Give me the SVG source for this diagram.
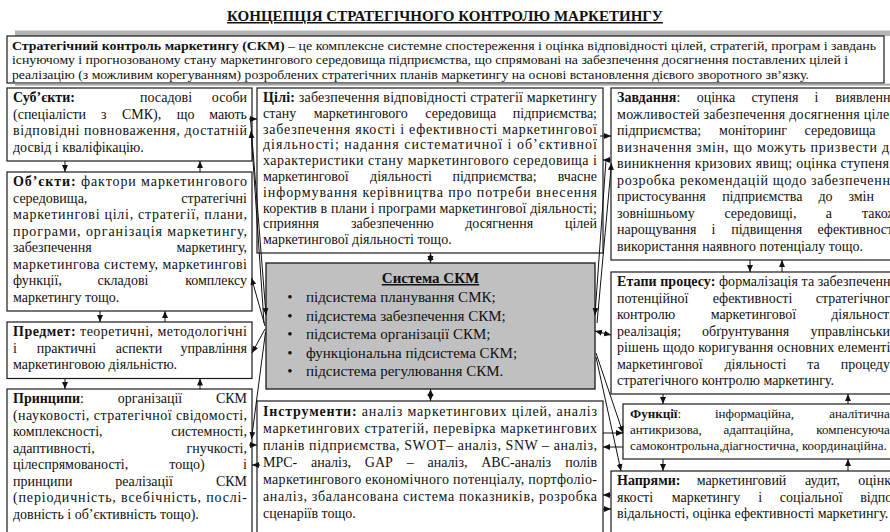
<svg xmlns="http://www.w3.org/2000/svg" width="890" height="532" viewBox="0 0 890 532">
<defs>
<style>
text{font-family:"Liberation Serif","Times New Roman",serif;font-size:14px;fill:#111}
.b{font-weight:bold}
.m{text-anchor:middle}
.e{text-anchor:end}
.box{fill:#fff;stroke:#1a1a1a;stroke-width:1.2}
.cn line{stroke:#111;stroke-width:1;fill:none}
.d{font-size:13.4px}
</style>
<marker id="a" viewBox="0 0 8 8" refX="8" refY="4" markerWidth="7" markerHeight="7" markerUnits="userSpaceOnUse" orient="auto-start-reverse"><path d="M0,0.6 L8,4 L0,7.4z" fill="#111"/></marker>
</defs>
<rect width="890" height="532" fill="#fff"/>

<g id="title"><text x="445" y="21" class="b m" style="font-size:15px;text-decoration:underline">КОНЦЕПЦІЯ СТРАТЕГІЧНОГО КОНТРОЛЮ МАРКЕТИНГУ</text></g>

<g id="definition">
<rect x="15" y="30.5" width="880" height="5.5" fill="#b4b4b4"/>
<rect class="box" x="7" y="36" width="877" height="47"/>
<rect x="15" y="83.6" width="880" height="2" fill="#a8a8a8"/>
<text x="12" y="49.5" class="d" textLength="864" lengthAdjust="spacingAndGlyphs"><tspan class="b">Стратегічний контроль маркетингу (СКМ)</tspan> – це комплексне системне спостереження і оцінка відповідності цілей, стратегій, програм і завдань</text>
<text x="12" y="64.3" class="d" textLength="836" lengthAdjust="spacingAndGlyphs">існуючому і прогнозованому стану маркетингового середовища підприємства, що спрямовані на забезпечення досягнення поставлених цілей і</text>
<text x="12" y="79.1" class="d" textLength="797" lengthAdjust="spacingAndGlyphs">реалізацію (з можливим корегуванням) розроблених стратегічних планів маркетингу на основі встановлення дієвого зворотного зв’язку.</text>
</g>

<g transform="translate(0,3)">
<g id="subjects">
<rect class="box" x="7" y="85" width="245" height="73"/>
<text y="99"><tspan x="13" class="b">Суб’єкти:</tspan><tspan x="166" class="m">посадові</tspan><tspan x="247" class="e">особи</tspan></text>
<text y="115.5"><tspan x="13">(спеціалісти</tspan><tspan x="103.8" class="m">з</tspan><tspan x="141.6" class="m">СМК),</tspan><tspan x="185.6" class="m">що</tspan><tspan x="247" class="e">мають</tspan></text>
<text x="13" y="132" textLength="234" lengthAdjust="spacing">відповідні повноваження, достатній</text>
<text x="13" y="148.5">досвід і кваліфікацію.</text>
</g>

<g id="objects">
<rect class="box" x="7" y="169" width="245" height="139"/>
<text x="13" y="183" textLength="234" lengthAdjust="spacing"><tspan class="b">Об’єкти:</tspan> фактори маркетингового</text>
<text y="199.5"><tspan x="13">середовища,</tspan><tspan x="247" class="e">стратегічні</tspan></text>
<text x="13" y="216" textLength="234" lengthAdjust="spacing">маркетингові цілі, стратегії, плани,</text>
<text x="13" y="232.5" textLength="234" lengthAdjust="spacing">програми, організація маркетингу,</text>
<text y="249"><tspan x="13">забезпечення</tspan><tspan x="247" class="e">маркетингу,</tspan></text>
<text x="13" y="265.5" textLength="234" lengthAdjust="spacing">маркетингова систему, маркетингові</text>
<text y="282"><tspan x="13">функції,</tspan><tspan x="123" class="m">складові</tspan><tspan x="247" class="e">комплексу</tspan></text>
<text x="13" y="298.5">маркетингу тощо.</text>
</g>

<g id="subject-matter">
<rect class="box" x="7" y="319" width="245" height="56.5"/>
<text x="13" y="333" textLength="234" lengthAdjust="spacing"><tspan class="b">Предмет:</tspan> теоретичні, методологічні</text>
<text y="349.5"><tspan x="13">і</tspan><tspan x="66.4" class="m">практичні</tspan><tspan x="139" class="m">аспекти</tspan><tspan x="247" class="e">управління</tspan></text>
<text x="13" y="366">маркетинговою діяльністю.</text>
</g>

<g id="principles">
<rect class="box" x="7" y="386" width="245" height="160"/>
<text y="400"><tspan x="13"><tspan class="b">Принципи</tspan>:</tspan><tspan x="150" class="m">організації</tspan><tspan x="247" class="e">СКМ</tspan></text>
<text x="13" y="416.5" textLength="234" lengthAdjust="spacing">(науковості, стратегічної свідомості,</text>
<text y="433"><tspan x="13">комплексності,</tspan><tspan x="247" class="e">системності,</tspan></text>
<text y="449.5"><tspan x="13">адаптивності,</tspan><tspan x="247" class="e">гнучкості,</tspan></text>
<text y="466"><tspan x="13">цілеспрямованості,</tspan><tspan x="187" class="m">тощо)</tspan><tspan x="247" class="e">і</tspan></text>
<text y="482.5"><tspan x="13">принципи</tspan><tspan x="144" class="m">реалізації</tspan><tspan x="247" class="e">СКМ</tspan></text>
<text x="13" y="499" textLength="234" lengthAdjust="spacing">(періодичність, всебічність, послі-</text>
<text x="13" y="515.5">довність і об’єктивність тощо).</text>
</g>

<g id="goals">
<rect class="box" x="257" y="85" width="346" height="165"/>
<text x="263" y="99" textLength="334" lengthAdjust="spacing"><tspan class="b">Цілі:</tspan> забезпечення відповідності стратегії маркетингу</text>
<text y="114.8"><tspan x="263">стану</tspan><tspan x="360.7" class="m">маркетингового</tspan><tspan x="460.8" class="m">середовища</tspan><tspan x="597" class="e">підприємства;</tspan></text>
<text x="263" y="130.6" textLength="334" lengthAdjust="spacing">забезпечення якості і ефективності маркетингової</text>
<text x="263" y="146.4" textLength="334" lengthAdjust="spacing">діяльності; надання систематичної і об’єктивної</text>
<text x="263" y="162.2" textLength="334" lengthAdjust="spacing">характеристики стану маркетингового середовища і</text>
<text y="178"><tspan x="263">маркетингової</tspan><tspan x="401" class="m">діяльності</tspan><tspan x="494.6" class="m">підприємства;</tspan><tspan x="597" class="e">вчасне</tspan></text>
<text x="263" y="193.8" textLength="334" lengthAdjust="spacing">інформування керівництва про потреби внесення</text>
<text x="263" y="209.6" textLength="334" lengthAdjust="spacing">коректив в плани і програми маркетингової діяльності;</text>
<text y="225.4"><tspan x="263">сприяння</tspan><tspan x="392.4" class="m">забезпеченню</tspan><tspan x="499.2" class="m">досягнення</tspan><tspan x="597" class="e">цілей</tspan></text>
<text x="263" y="241.2">маркетингової діяльності тощо.</text>
</g>

<g id="system">
<rect x="266" y="260" width="329" height="126" fill="#c0c0c0" stroke="#1a1a1a" stroke-width="1.3"/>
<text x="430.5" y="280" class="b m" style="font-size:15px;text-decoration:underline">Система СКМ</text>
<text x="290" y="299" class="m" style="font-size:15px">•</text><text x="306" y="299" style="font-size:15px">підсистема планування СМК;</text>
<text x="290" y="317.5" class="m" style="font-size:15px">•</text><text x="306" y="317.5" style="font-size:15px">підсистема забезпечення СКМ;</text>
<text x="290" y="336" class="m" style="font-size:15px">•</text><text x="306" y="336" style="font-size:15px">підсистема організації СКМ;</text>
<text x="290" y="354.5" class="m" style="font-size:15px">•</text><text x="306" y="354.5" style="font-size:15px">функціональна підсистема СКМ;</text>
<text x="290" y="373" class="m" style="font-size:15px">•</text><text x="306" y="373" style="font-size:15px">підсистема регулювання СКМ.</text>
</g>

<g id="tools">
<rect class="box" x="257" y="398" width="346" height="150"/>
<text x="263" y="413" textLength="334" lengthAdjust="spacing"><tspan class="b">Інструменти:</tspan> аналіз маркетингових цілей, аналіз</text>
<text x="263" y="430" textLength="334" lengthAdjust="spacing">маркетингових стратегій, перевірка маркетингових</text>
<text x="263" y="447" textLength="334" lengthAdjust="spacing">планів підприємства, SWOT– аналіз, SNW – аналіз,</text>
<text y="464"><tspan x="263">MPC-</tspan><tspan x="331" class="m">аналіз,</tspan><tspan x="378.8" class="m">GAP</tspan><tspan x="410.2" class="m">–</tspan><tspan x="447.5" class="m">аналіз,</tspan><tspan x="516.2" class="m">ABC-аналіз</tspan><tspan x="597" class="e">полів</tspan></text>
<text x="263" y="481" textLength="334" lengthAdjust="spacing">маркетингового економічного потенціалу, портфоліо-</text>
<text x="263" y="498" textLength="334" lengthAdjust="spacing">аналіз, збалансована система показників, розробка</text>
<text x="263" y="515">сценаріїв тощо.</text>
</g>

<g id="tasks">
<rect class="box" x="611" y="85" width="300" height="172"/>
<text y="99"><tspan x="617"><tspan class="b">Завдання</tspan>:</tspan><tspan x="716" class="m">оцінка</tspan><tspan x="775" class="m">ступеня</tspan><tspan x="816.5" class="m">і</tspan><tspan x="897" class="e">виявлення</tspan></text>
<text x="617" y="115.5" textLength="280" lengthAdjust="spacing">можливостей забезпечення досягнення цілей</text>
<text y="132"><tspan x="617">підприємства;</tspan><tspan x="753" class="m">моніторинг</tspan><tspan x="840" class="m">середовища</tspan><tspan x="897" class="e">і</tspan></text>
<text x="617" y="148.5" textLength="280" lengthAdjust="spacing">визначення змін, що можуть призвести до</text>
<text x="617" y="165" textLength="280" lengthAdjust="spacing">виникнення кризових явищ; оцінка ступеня і</text>
<text x="617" y="181.5" textLength="280" lengthAdjust="spacing">розробка рекомендацій щодо забезпечення</text>
<text y="198"><tspan x="617">пристосування</tspan><tspan x="762.3" class="m">підприємства</tspan><tspan x="825.5" class="m">до</tspan><tspan x="861.2" class="m">змін</tspan><tspan x="897" class="e">у</tspan></text>
<text y="214.5"><tspan x="617">зовнішньому</tspan><tspan x="760.4" class="m">середовищі,</tspan><tspan x="828.8" class="m">а</tspan><tspan x="897" class="e">також</tspan></text>
<text y="231"><tspan x="617">нарощування</tspan><tspan x="713.5" class="m">і</tspan><tspan x="766.7" class="m">підвищення</tspan><tspan x="897" class="e">ефективності</tspan></text>
<text x="617" y="247.5">використання наявного потенціалу тощо.</text>
</g>

<g id="stages">
<rect class="box" x="611" y="269" width="300" height="122"/>
<text x="617" y="283" textLength="280" lengthAdjust="spacing"><tspan class="b">Етапи процесу:</tspan> формалізація та забезпечення</text>
<text y="299.5"><tspan x="617">потенційної</tspan><tspan x="752.5" class="m">ефективності</tspan><tspan x="897" class="e">стратегічного</tspan></text>
<text y="316"><tspan x="617">контролю</tspan><tspan x="753.4" class="m">маркетингової</tspan><tspan x="897" class="e">діяльності;</tspan></text>
<text y="332.5"><tspan x="617">реалізація;</tspan><tspan x="745.6" class="m">обґрунтування</tspan><tspan x="897" class="e">управлінських</tspan></text>
<text x="617" y="349" textLength="280" lengthAdjust="spacing">рішень щодо коригування основних елементів</text>
<text y="365.5"><tspan x="617">маркетингової</tspan><tspan x="755.4" class="m">діяльності</tspan><tspan x="813.5" class="m">та</tspan><tspan x="897" class="e">процедур</tspan></text>
<text x="617" y="382">стратегічного контролю маркетингу.</text>
</g>

<g id="functions">
<rect class="box" x="623" y="401" width="290" height="55"/>
<text y="415" style="font-size:13px"><tspan x="630"><tspan class="b">Функції</tspan>:</tspan><tspan x="754.5" class="m">інформаційна,</tspan><tspan x="893" class="e">аналітична,</tspan></text>
<text y="431" style="font-size:13px"><tspan x="630">антикризова,</tspan><tspan x="758.6" class="m">адаптаційна,</tspan><tspan x="893" class="e">компенсуюча,</tspan></text>
<text x="630" y="447" style="font-size:13px">самоконтрольна,діагностична, координаційна.</text>
</g>

<g id="directions">
<rect class="box" x="611" y="468" width="300" height="80"/>
<text y="482"><tspan x="617" class="b">Напрями:</tspan><tspan x="741.5" class="m">маркетинговий</tspan><tspan x="822.4" class="m">аудит,</tspan><tspan x="897" class="e">оцінка</tspan></text>
<text y="498.5"><tspan x="617">якості</tspan><tspan x="706" class="m">маркетингу</tspan><tspan x="760.2" class="m">і</tspan><tspan x="811.2" class="m">соціальної</tspan><tspan x="897" class="e">відпо-</tspan></text>
<text x="617" y="515">відальності, оцінка ефективності маркетингу.</text>
</g>

<g id="connectors" class="cn">
<line x1="65" y1="158" x2="65" y2="169" marker-end="url(#a)"/>
<line x1="200" y1="169" x2="200" y2="158" marker-end="url(#a)"/>
<line x1="100" y1="308" x2="100" y2="319" marker-end="url(#a)"/>
<line x1="165" y1="319" x2="165" y2="308" marker-end="url(#a)"/>
<line x1="65" y1="375.5" x2="65" y2="386" marker-end="url(#a)"/>
<line x1="200" y1="386" x2="200" y2="375.5" marker-end="url(#a)"/>
<line x1="750" y1="257" x2="750" y2="269" marker-end="url(#a)"/>
<line x1="782" y1="269" x2="782" y2="257" marker-end="url(#a)"/>
<line x1="663" y1="391" x2="663" y2="401" marker-end="url(#a)"/>
<line x1="848" y1="401" x2="848" y2="391" marker-end="url(#a)"/>
<line x1="663" y1="456" x2="663" y2="468" marker-end="url(#a)"/>
<line x1="848" y1="468" x2="848" y2="456" marker-end="url(#a)"/>
<line x1="430.5" y1="250" x2="430.5" y2="260" marker-start="url(#a)" marker-end="url(#a)"/>
<line x1="430.5" y1="386" x2="430.5" y2="398" marker-start="url(#a)" marker-end="url(#a)"/>
<line x1="249" y1="116" x2="257" y2="116" marker-end="url(#a)"/>
<line x1="250.5" y1="116" x2="266" y2="312" marker-end="url(#a)"/>
<line x1="264" y1="320" x2="251" y2="128" marker-end="url(#a)"/>
<line x1="265" y1="323" x2="251.5" y2="275" marker-end="url(#a)"/>
<line x1="265" y1="326" x2="252" y2="350" marker-end="url(#a)"/>
<line x1="265.5" y1="329" x2="251.5" y2="436" marker-end="url(#a)"/>
<line x1="249" y1="442" x2="257" y2="442" marker-end="url(#a)"/>
<line x1="260" y1="462" x2="252" y2="462" marker-end="url(#a)"/>
<line x1="600" y1="133" x2="611" y2="133" marker-end="url(#a)"/>
<line x1="611" y1="157" x2="603" y2="157" marker-end="url(#a)"/>
<line x1="606" y1="157" x2="595" y2="312" marker-end="url(#a)"/>
<line x1="597" y1="320" x2="611.5" y2="160" marker-end="url(#a)"/>
<line x1="595" y1="328" x2="611" y2="332" marker-start="url(#a)" marker-end="url(#a)"/>
<line x1="596" y1="350" x2="623" y2="430" marker-end="url(#a)"/>
<line x1="596" y1="354" x2="621" y2="468" marker-end="url(#a)"/>
<line x1="603" y1="430" x2="623" y2="430" marker-end="url(#a)"/>
<line x1="623" y1="444" x2="603" y2="444" marker-end="url(#a)"/>
<line x1="611" y1="492" x2="603" y2="492" marker-end="url(#a)"/>
<line x1="603" y1="506" x2="611" y2="506" marker-end="url(#a)"/>
</g>
</g>
</svg>
